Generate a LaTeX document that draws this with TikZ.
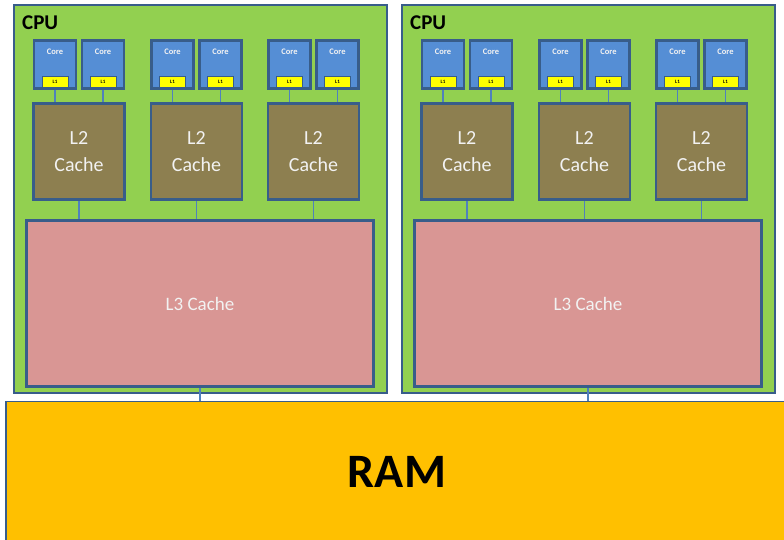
\documentclass[tikz,border=0pt]{standalone}
\usepackage{fontspec}
\setmainfont{Carlito}
\definecolor{cpugreen}{RGB}{146,208,80}
\definecolor{bordblue}{RGB}{56,93,138}
\definecolor{linkblue}{RGB}{79,129,189}
\definecolor{corefill}{RGB}{85,142,213}
\definecolor{l2fill}{RGB}{141,127,80}
\definecolor{l3fill}{RGB}{217,150,148}
\definecolor{ramfill}{RGB}{255,192,0}
\definecolor{l1fill}{RGB}{255,255,0}
\definecolor{lighttext}{RGB}{242,242,242}
\tikzset{
  cpubox/.style={draw=bordblue, line width=2.2pt, fill=cpugreen, minimum width=373pt, minimum height=388pt, inner sep=0pt},
  corebox/.style={draw=bordblue, line width=2.2pt, fill=corefill, minimum width=42pt, minimum height=48pt, inner sep=0pt},
  coretext/.style={text=lighttext, font=\bfseries\fontsize{8.5}{9}\selectfont, inner sep=0pt},
  l1box/.style={draw=bordblue, line width=1pt, fill=l1fill, minimum width=26pt, minimum height=11pt, inner sep=0pt, font=\bfseries\fontsize{5}{5}\selectfont},
  l2box/.style={draw=bordblue, line width=2.2pt, fill=l2fill, minimum width=91pt, minimum height=96pt, inner sep=0pt, text=lighttext, align=center, font=\fontsize{20}{27}\selectfont},
  l3box/.style={draw=bordblue, line width=2.2pt, fill=l3fill, minimum width=347pt, minimum height=166pt, inner sep=0pt, text=lighttext, font=\fontsize{19}{22}\selectfont},
  rambox/.style={draw=bordblue, line width=1.2pt, fill=ramfill, minimum width=786pt, minimum height=145pt, inner sep=0pt},
  link/.style={draw=linkblue, line width=1.2pt},
  cputext/.style={font=\bfseries\fontsize{21}{24}\selectfont, inner sep=0pt, anchor=base west}
}
\begin{document}
\begin{tikzpicture}[x=1pt,y=-1pt]
\useasboundingbox[fill=white] (0,0) rectangle (784,539);
\node[rambox] (ram) at (399,474) {};
\node[font=\bfseries\fontsize{48}{50}\selectfont, inner sep=0pt] (ramtext) at (397,472) {RAM};
\foreach \p/\dx in {a/0, b/388} {
  \begin{scope}[xshift=\dx pt]
  \node[cpubox] (cpu\p) at (200.5,199) {};
  \node[cputext] (cpulabel\p) at (22,29) {CPU};
  \node[l3box] (l3\p) at (200,303.5) {L3 Cache};
  \foreach \k/\cx in {1/79, 2/196.5, 3/313.5} {
    \node[l2box] (l2\p\k) at (\cx,151.5) {L2\\Cache};
    \node[corebox] (core\p\k L) at (\cx-24,64.5) {};
    \node[corebox] (core\p\k R) at (\cx+24,64.5) {};
    \foreach \s in {L,R} {
      \node[coretext] (coretext\p\k\s) at ([yshift=-12pt]core\p\k\s.north) {Core};
      \node[l1box] (l1\p\k\s) at ([yshift=8pt]core\p\k\s.south) {L1};
      \draw[link] (core\p\k\s.south) -- (core\p\k\s.south |- l2\p\k.north);
    }
    \draw[link] (l2\p\k.south) -- (l2\p\k.south |- l3\p.north);
  }
  \draw[link] (l3\p.south) -- (l3\p.south |- ram.north);
  \end{scope}
}
\end{tikzpicture}
\end{document}
